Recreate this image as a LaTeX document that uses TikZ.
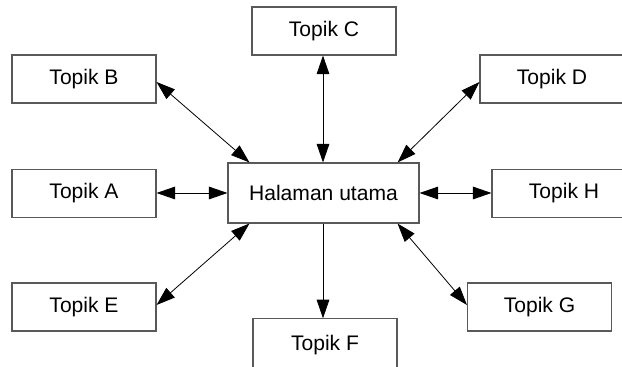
\documentclass[tikz,border=0pt]{standalone}
\usepackage{fontspec}
\setmainfont{Liberation Sans}
\usetikzlibrary{arrows.meta,calc}
\begin{document}
\begin{tikzpicture}[x=0.75pt,y=-0.75pt,
  topicbox/.style={draw=black!65,line width=0.8pt,fill=white,rectangle,inner sep=0pt,
    minimum width=108pt,minimum height=36pt,font=\fontsize{15.8}{19}\selectfont},
  mainbox/.style={topicbox,minimum width=143.25pt,minimum height=45pt},
  link/.style={line width=0.6pt,black,{Triangle[length=14pt,width=9.5pt]}-{Triangle[length=14pt,width=9.5pt]}},
  onelink/.style={line width=0.6pt,black,-{Triangle[length=14pt,width=9.5pt]}}]
  \clip (0,0) rectangle (622,367);
  \fill[white] (0,0) rectangle (622,367);

  % central page and its topics
  \node[mainbox]  (main) at (323.5,193) {Halaman utama};
  \node[topicbox] (C) at (324,31)    {Topik C};
  \node[topicbox] (B) at (84,79)     {Topik B};
  \node[topicbox] (D) at (552,79)    {Topik D};
  \node[topicbox] (A) at (84,193.5)  {Topik A};
  \node[topicbox] (H) at (564,193.5) {Topik H};
  \node[topicbox] (E) at (84,307)    {Topik E};
  \node[topicbox] (G) at (539.5,307) {Topik G};
  \node[topicbox,minimum height=40pt] (F) at (325,345.5) {Topik F};

  % links
  \draw[link] ($(main.north)+(-0.5,0)$) -- (C.south -| {$(main.north)+(-0.5,0)$});
  \draw[link] ($(main.north west)+(22,0)$) -- ($(B.east)+(0,3)$);
  \draw[link] ($(main.north east)+(-22,0)$) -- ($(D.west)+(0,3)$);
  \draw[link] (main.west) -- (main.west -| A.east);
  \draw[link] (main.east) -- (main.east -| H.west);
  \draw[link] ($(main.south west)+(22,0)$) -- ($(E.east)+(0,-2)$);
  \draw[link] ($(main.south east)+(-22,0)$) -- ($(G.west)+(0,-2)$);
  \draw[onelink] ($(main.south)+(-0.5,0)$) -- (F.north -| {$(main.south)+(-0.5,0)$});
\end{tikzpicture}
\end{document}
